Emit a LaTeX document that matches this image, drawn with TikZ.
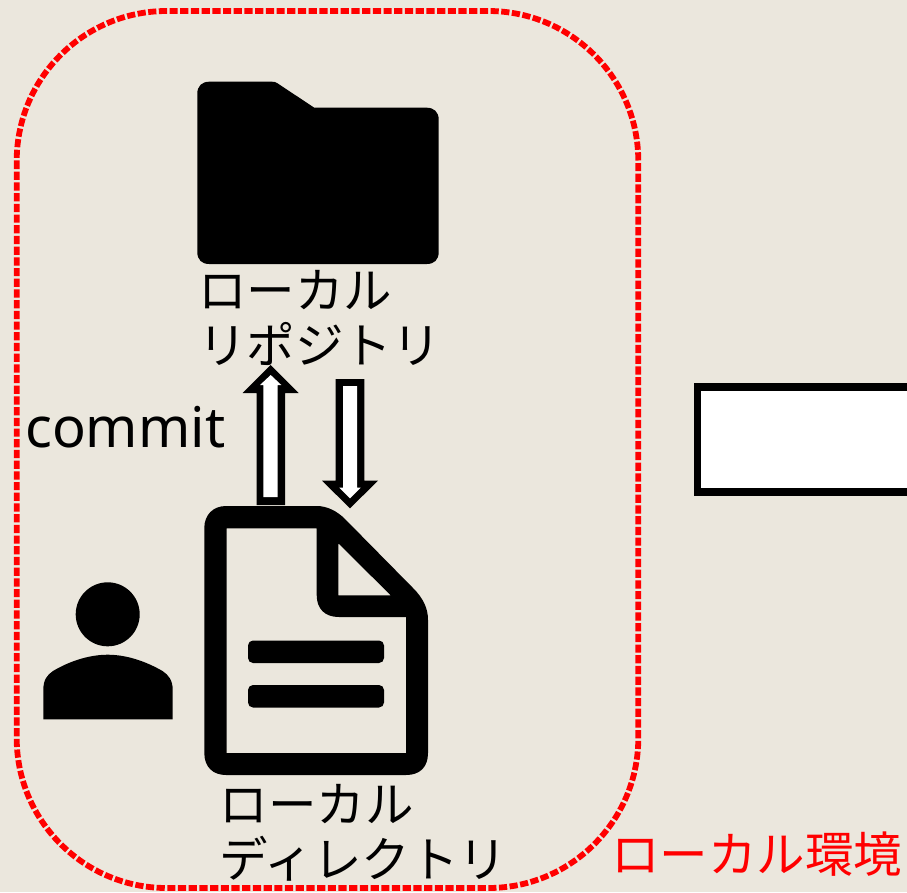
\documentclass[tikz,border=0pt]{standalone}
\usepackage{fontspec}
\setmainfont{Noto Sans}
\newfontfamily\cjk{Noto Sans CJK JP}
\definecolor{bgc}{HTML}{EBE7DD}
\tikzset{
  jplabel/.style={font=\cjk\fontsize{48.5}{55}\selectfont, align=left, inner sep=0pt, anchor=north west, text=black},
  glyph/.style={fill=black, draw=none},
  hole/.style={fill=white, draw=none},
}
\begin{document}
\begin{tikzpicture}[x=1pt,y=-1pt]
\useasboundingbox (0,0) rectangle (907,892);
\fill[bgc] (0,0) rectangle (907,892);
% local environment frame
\draw[red, line width=5.8pt, dash pattern=on 8.2pt off 2.5pt, rounded corners=150pt] (16.7,11) rectangle (638.3,888);
% white box cut by the right edge
\begin{scope}
\clip (0,0) rectangle (907,892);
\draw[black, fill=white, line width=7.5pt, miter limit=10] (697.7,387) rectangle (930,492.2);
\end{scope}
% folder
\fill[black] (197.3,252) -- (197.3,93.7) .. controls (197.3,86) and (202,81.7) .. (209.3,81.7) -- (272,81.7) .. controls (274,81.7) and (275.5,82) .. (277,83) -- (314.3,107.7) -- (426.7,107.7) .. controls (434,107.7) and (438.7,112) .. (438.7,119.7) -- (438.7,252) .. controls (438.7,260) and (434,264) .. (426.7,264) -- (209.3,264) .. controls (202,264) and (197.3,260) .. (197.3,252) -- cycle;
% person
\fill[black] (107.7,614.3) circle[radius=32];
\fill[black] (43.3,719.3) -- (43.3,690) .. controls (43.3,680) and (47,675) .. (53,671) .. controls (68,662) and (88,654.7) .. (107.7,654.7) .. controls (127.4,654.7) and (147,662) .. (162.5,671) .. controls (168.5,675) and (172.7,680) .. (172.7,690) -- (172.7,719.3) -- cycle;
% document
\fill[black, even odd rule]
  (204.3,528) .. controls (204.3,515) and (213,506) .. (226,506) -- (316.7,506)
  .. controls (327,506) and (337,511) .. (345,519) -- (413,588)
  .. controls (423,598) and (428,608) .. (428,620) -- (428,753)
  .. controls (428,767) and (420,775) .. (406,775) -- (226,775)
  .. controls (213,775) and (204.3,767) .. (204.3,753) -- cycle
  (226.7,528.3) -- (316.7,528.3) -- (316.7,595) .. controls (316.7,609) and (325,617) .. (339,617) -- (406,617) -- (406,753) -- (226.7,753) -- cycle
  (338.3,543.3) -- (390.7,595.3) -- (338.3,595.3) -- cycle;
\fill[black, rounded corners=5pt] (248,640.5) rectangle (384,663);
\fill[black, rounded corners=5pt] (248,685) rectangle (384,707.5);
% up arrow
\fill[glyph] (270.7,365) -- (298.7,393) -- (285,393) -- (285,505) -- (256.7,505) -- (256.7,393) -- (242.7,393) -- cycle;
\fill[hole] (270.7,375) -- (281.3,385) -- (277.7,385) -- (277.7,497) -- (263.3,497) -- (263.3,385) -- (260,385) -- cycle;
% down arrow
\fill[glyph] (335.7,379) -- (364.3,379) -- (364.3,480.7) -- (378,480.7) -- (350,508.3) -- (322,480.7) -- (335.7,480.7) -- cycle;
\fill[hole] (343,386) -- (357,386) -- (357,487.7) -- (360.7,487.7) -- (350,498.3) -- (339.3,487.7) -- (343,487.7) -- cycle;
% labels
\node[jplabel] (repo) at (198,270) {ローカル\\リポジトリ};
\node[jplabel] (dir) at (219.5,784) {ローカル\\ディレクトリ};
\node[jplabel, text=red] (env) at (611,832) {ローカル環境};
\node[inner sep=0pt, anchor=base west, font=\fontsize{56}{60}\selectfont] (commit) at (25,447) {commit};
\end{tikzpicture}
\end{document}
